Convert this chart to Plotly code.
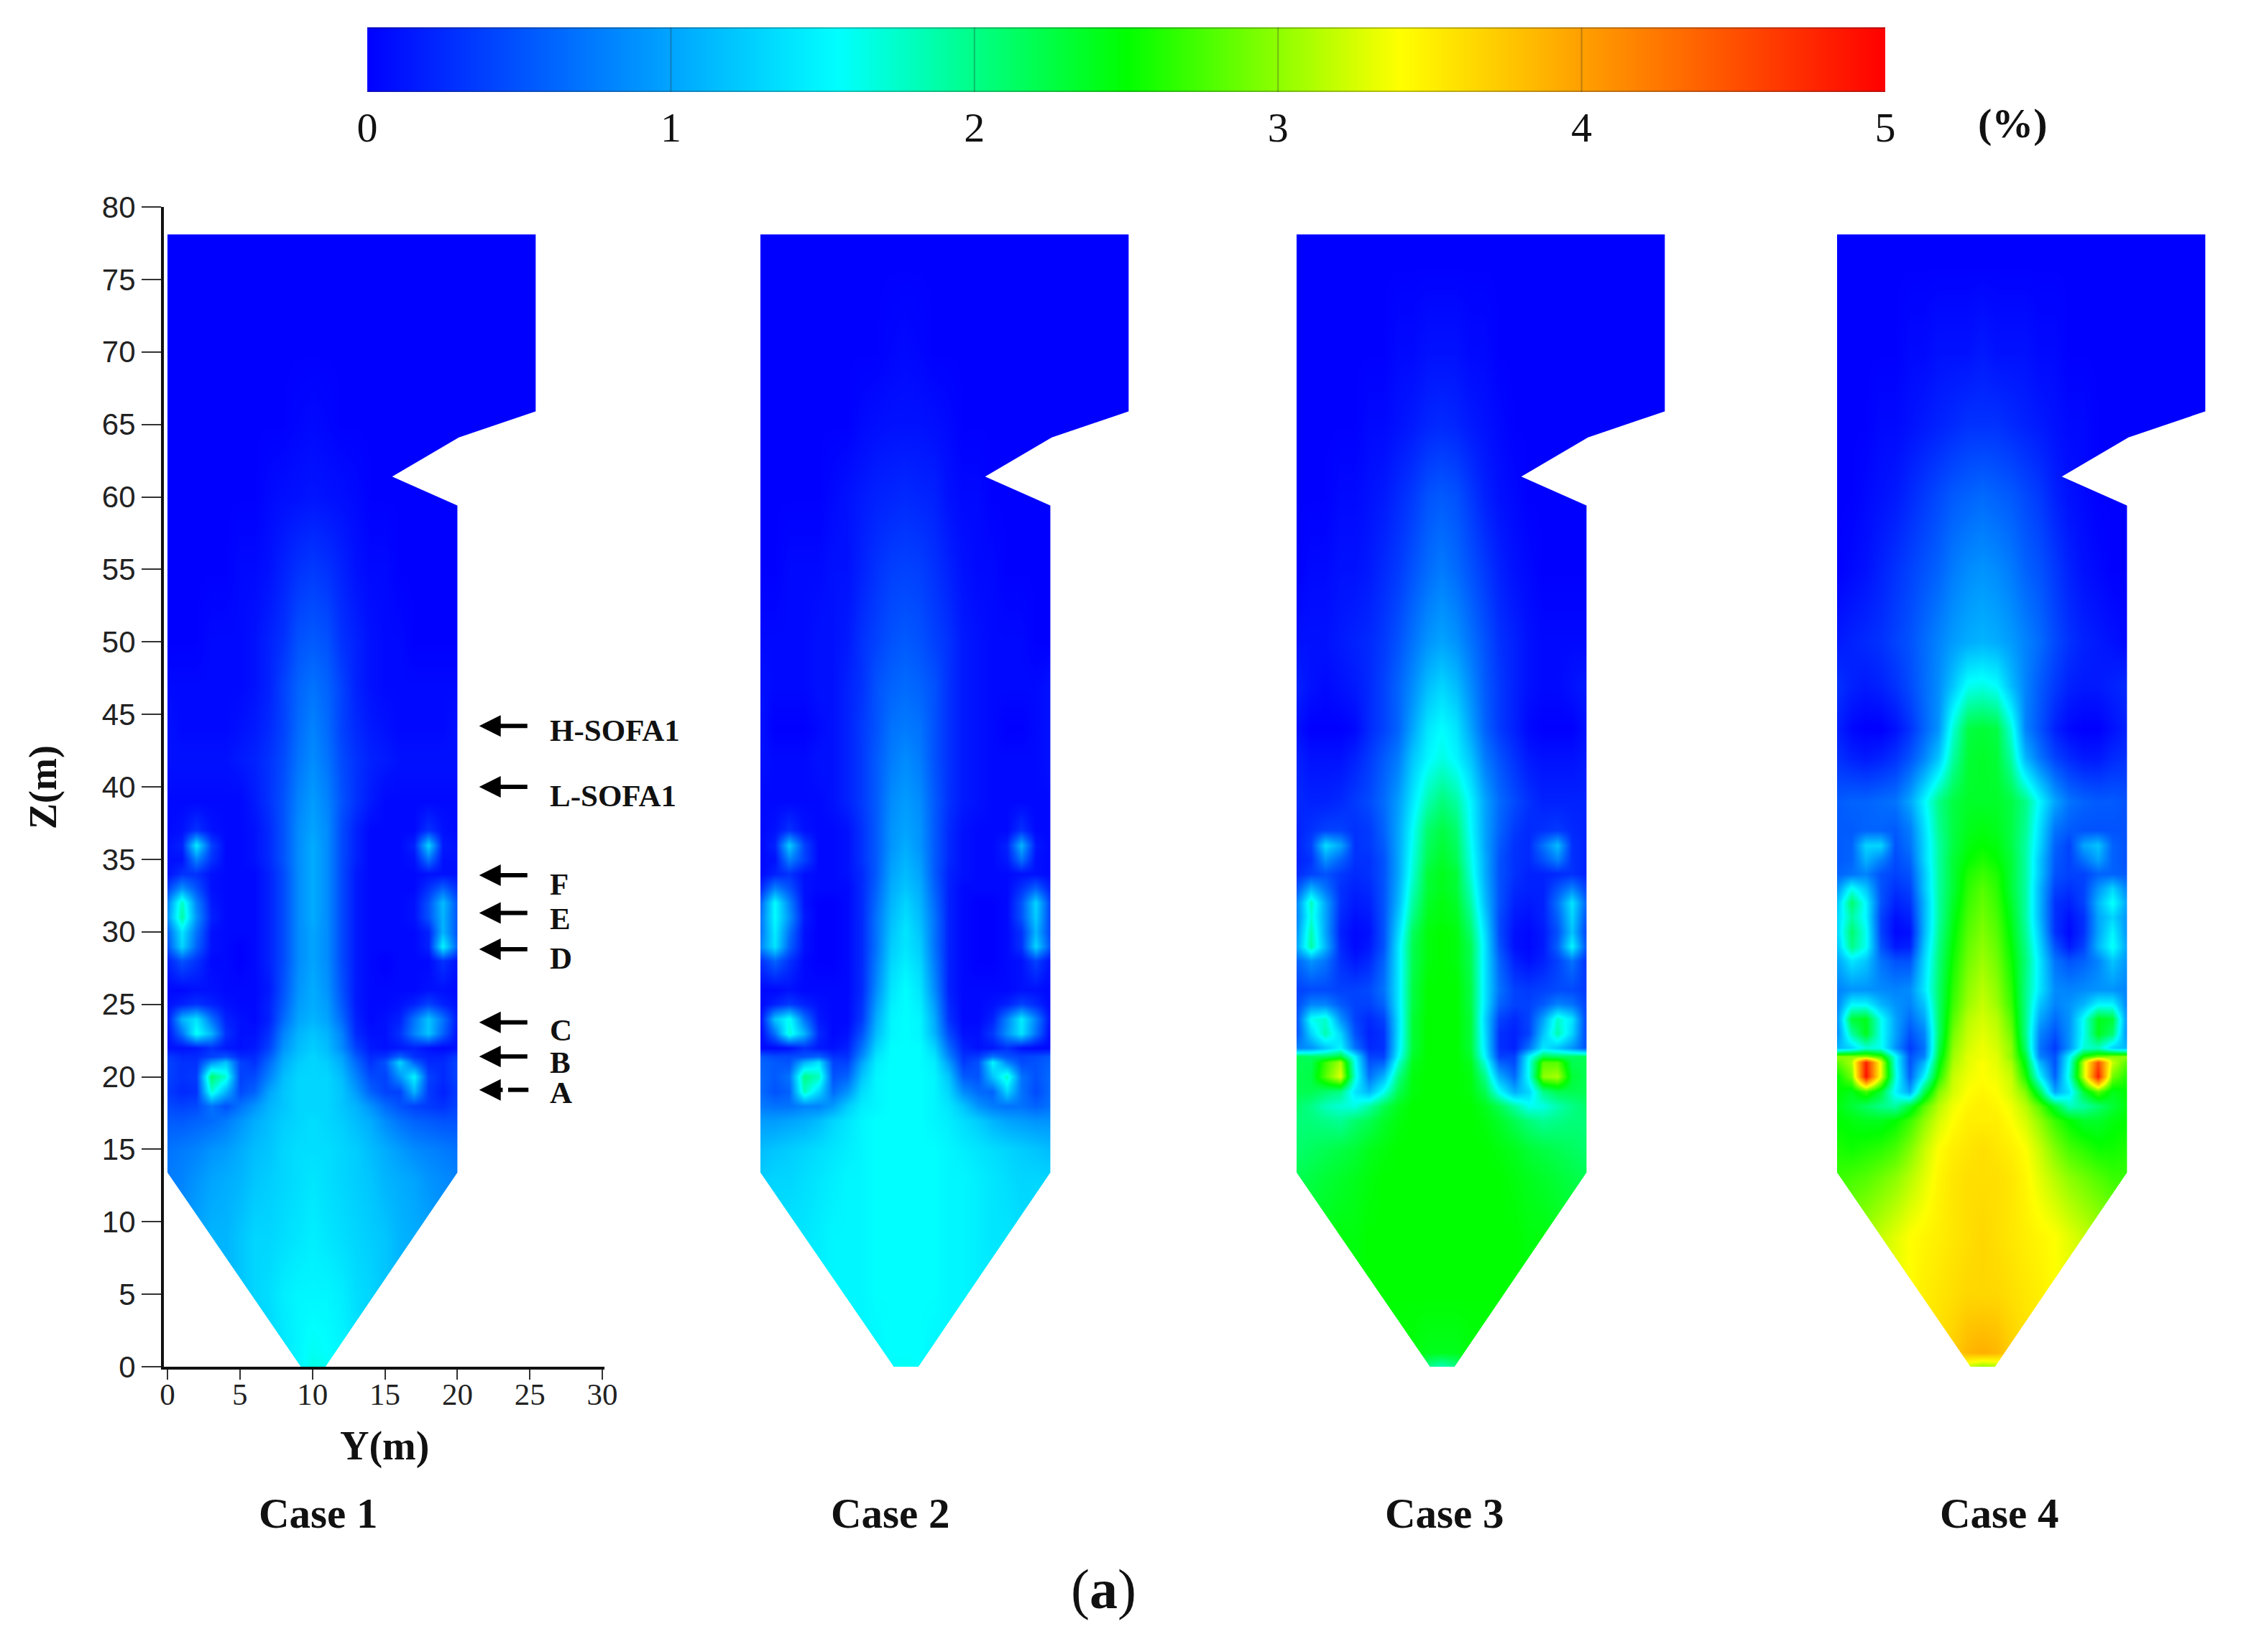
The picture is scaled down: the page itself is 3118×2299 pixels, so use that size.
import plotly.graph_objects as go

W, H = 3118, 2299

# furnace section, metres
Y_M = [0, 1, 2, 3, 4, 5, 6, 7, 8, 9, 10, 11, 12, 13, 14, 15, 16, 17, 18, 19, 20, 24]
Z_M = [0, 1, 5, 9, 13, 15, 17, 18, 19, 20, 21, 21.4, 22, 23, 24, 25, 26, 28, 29, 30, 31, 32,
       33, 34, 35, 36, 37, 39, 42, 44, 47, 50, 55, 60, 65, 70, 76]
FURNACE_Y = [0, 0, 25.4, 25.4, 20.1, 15.5, 20, 20, 10.9, 9.2, 0]
FURNACE_Z = [13.4, 78.1, 78.1, 65.9, 64.1, 61.4, 59.4, 13.4, 0, 0, 13.4]

# one row per Z_M value, bottom up (%)
CASE_1 = [
    [.9, .9, .9, 1, 1, 1.1, 1.2, 1.3, 1.4, 1.5, 1.65, 1.6, 1.5, 1.4, 1.2, 1.1, 1, 1, .9, .9, .9, .9],
    [.9, .9, .9, 1, 1, 1.1, 1.2, 1.3, 1.4, 1.5, 1.6, 1.55, 1.5, 1.4, 1.2, 1.1, 1, 1, .9, .9, .9, .9],
    [.9, .9, .9, 1, 1.1, 1.2, 1.3, 1.35, 1.45, 1.5, 1.5, 1.5, 1.45, 1.35, 1.3, 1.2, 1.1, 1, .9, .9, .9, .9],
    [.9, .9, 1, 1.1, 1.1, 1.2, 1.3, 1.3, 1.35, 1.4, 1.45, 1.4, 1.35, 1.3, 1.25, 1.2, 1.1, 1.05, 1, .9, .9, .9],
    [.75, .8, .9, 1, 1.05, 1.1, 1.2, 1.25, 1.3, 1.35, 1.4, 1.35, 1.3, 1.25, 1.2, 1.1, 1.05, 1, .9, .85, .8, .8],
    [.7, .75, .8, .9, .95, 1.05, 1.15, 1.2, 1.3, 1.35, 1.35, 1.35, 1.3, 1.25, 1.15, 1.05, .95, .85, .8, .75, .7, .7],
    [.55, .55, .6, .65, .75, .9, 1.05, 1.15, 1.25, 1.3, 1.35, 1.3, 1.25, 1.15, 1.05, .85, .7, .6, .55, .5, .5, .5],
    [.45, .4, .45, .7, .5, .7, .9, 1.1, 1.2, 1.3, 1.3, 1.3, 1.2, 1.1, .9, .65, .5, .4, .35, .3, .4, .4],
    [.35, .25, .3, 1.7, 1.1, .45, .6, 1, 1.2, 1.3, 1.3, 1.3, 1.2, .95, .6, .4, .4, 1.1, .35, .2, .35, .35],
    [.4, .3, .35, 2.1, 1.7, .4, .45, .8, 1.15, 1.3, 1.3, 1.3, 1.15, .8, .45, .4, .9, 1.5, .4, .25, .4, .4],
    [.4, .3, .3, .9, 1.2, .4, .3, .65, 1.05, 1.25, 1.3, 1.25, 1.05, .65, .3, .5, 1.3, .6, .25, .25, .4, .4],
    [.35, .25, .25, .4, .5, .25, .25, .55, 1, 1.2, 1.3, 1.2, 1, .55, .25, .3, .6, .3, .2, .2, .35, .35],
    [.1, .1, .15, .3, .15, .1, .15, .4, .9, 1.15, 1.25, 1.15, .85, .4, .15, .1, .15, .2, .1, .05, .1, .1],
    [.1, .7, 1.6, 1.1, .3, .1, .1, .3, .8, 1.1, 1.2, 1.1, .8, .25, .1, .1, .3, .8, 1.2, .6, .1, .1],
    [.15, 1.1, 1.4, .7, .2, .1, .05, .2, .65, 1, 1.1, 1, .65, .2, .05, .1, .2, .7, 1.2, .7, .15, .15],
    [.1, .2, .3, .2, .1, .05, .05, .2, .55, .95, 1.05, .95, .55, .15, .05, .05, .1, .2, .4, .2, .1, .1],
    [.05, .05, .1, .1, .05, .05, .05, .15, .5, .9, 1.05, .9, .5, .15, .05, .05, .05, .05, .1, .1, .05, .05],
    [.2, .5, .3, .05, .05, 0, .05, .2, .45, .85, 1, .85, .45, .15, .05, 0, .05, .05, .05, .3, .1, .1],
    [.5, 1.3, .6, .1, .05, 0, .05, .2, .45, .85, 1, .85, .45, .15, .05, .05, .05, .05, .2, 1.5, .6, .1],
    [.6, 1.4, .7, .1, .05, .05, .05, .2, .45, .85, 1, .85, .45, .15, .05, .05, .05, .05, .2, 1.1, .5, .1],
    [.9, 1.9, .9, .2, .05, .05, .05, .2, .45, .85, 1.05, .85, .45, .15, .05, .05, .05, .1, .5, 1.1, .5, .1],
    [.8, 1.8, .8, .15, .05, .05, .05, .2, .45, .85, 1.05, .85, .45, .15, .05, .05, .05, .1, .5, 1.15, .5, .1],
    [.4, .9, .5, .1, .05, .05, .05, .2, .45, .85, 1.05, .85, .45, .15, .05, .05, .05, .05, .3, .6, .3, .1],
    [.1, .3, .3, .1, .05, .05, .05, .2, .45, .85, 1.05, .85, .45, .15, .05, .05, .05, .05, .1, .1, .1, .1],
    [.1, .1, .8, .3, .05, .05, .1, .25, .5, .85, 1.05, .85, .45, .2, .05, .05, .05, .1, .7, .1, .1, .1],
    [.1, .2, 1.45, .4, .05, .05, .1, .25, .5, .85, 1.05, .85, .45, .2, .05, .05, .05, .2, 1.3, .15, .1, .1],
    [.05, .1, .3, .1, .05, .05, .1, .25, .5, .85, 1, .85, .45, .2, .05, .05, .05, .05, .3, .1, .05, .05],
    [.05, .05, .05, .05, .05, .05, .15, .3, .5, .8, .95, .8, .5, .3, .15, .05, .05, .05, .05, .05, .05, .05],
    [.1, .1, .1, .1, .1, .15, .2, .3, .45, .7, .85, .7, .45, .3, .2, .15, .1, .1, .1, .1, .1, .1],
    [.1, .05, .05, .05, .05, .1, .15, .25, .4, .65, .8, .65, .4, .25, .15, .1, .05, .05, .05, .05, .1, .1],
    [.05, .05, .05, .05, .05, .05, .1, .2, .4, .6, .7, .6, .4, .2, .1, .05, .05, .05, .05, .05, .05, .05],
    [0, 0, 0, .05, .05, .05, .1, .2, .3, .5, .55, .5, .3, .2, .1, .05, .05, 0, 0, 0, 0, 0],
    [0, 0, 0, 0, 0, .05, .05, .1, .2, .3, .35, .3, .2, .1, .05, .05, 0, 0, 0, 0, 0, 0],
    [0, 0, 0, 0, 0, 0, 0, .05, .08, .1, .12, .1, .08, .05, 0, 0, 0, 0, 0, 0, 0, 0],
    [0, 0, 0, 0, 0, 0, 0, 0, 0, .03, .05, .03, 0, 0, 0, 0, 0, 0, 0, 0, 0, 0],
    [0, 0, 0, 0, 0, 0, 0, 0, 0, 0, 0, 0, 0, 0, 0, 0, 0, 0, 0, 0, 0, 0],
    [0, 0, 0, 0, 0, 0, 0, 0, 0, 0, 0, 0, 0, 0, 0, 0, 0, 0, 0, 0, 0, 0],
]
CASE_2 = [
    [1.4, 1.4, 1.4, 1.45, 1.45, 1.5, 1.5, 1.5, 1.5, 1.55, 1.6, 1.55, 1.5, 1.5, 1.5, 1.45, 1.45, 1.4, 1.4, 1.4, 1.4, 1.4],
    [1.4, 1.4, 1.4, 1.45, 1.45, 1.5, 1.5, 1.5, 1.5, 1.55, 1.55, 1.55, 1.5, 1.5, 1.5, 1.45, 1.45, 1.4, 1.4, 1.4, 1.4, 1.4],
    [1.35, 1.35, 1.4, 1.45, 1.45, 1.5, 1.5, 1.5, 1.55, 1.55, 1.55, 1.55, 1.55, 1.5, 1.5, 1.45, 1.45, 1.4, 1.4, 1.35, 1.35, 1.35],
    [1.3, 1.35, 1.4, 1.4, 1.45, 1.5, 1.5, 1.5, 1.55, 1.55, 1.55, 1.55, 1.55, 1.5, 1.5, 1.45, 1.4, 1.4, 1.35, 1.35, 1.3, 1.3],
    [1.25, 1.3, 1.3, 1.35, 1.4, 1.45, 1.5, 1.5, 1.55, 1.55, 1.55, 1.55, 1.55, 1.5, 1.5, 1.45, 1.4, 1.35, 1.3, 1.3, 1.3, 1.3],
    [1.15, 1.2, 1.25, 1.3, 1.35, 1.4, 1.45, 1.5, 1.55, 1.55, 1.55, 1.55, 1.55, 1.5, 1.45, 1.4, 1.35, 1.3, 1.25, 1.2, 1.15, 1.15],
    [.95, .95, 1, 1.05, 1.15, 1.3, 1.4, 1.5, 1.55, 1.55, 1.55, 1.55, 1.5, 1.45, 1.35, 1.25, 1.1, 1, .95, .9, .9, .9],
    [.75, .7, .7, .8, .8, .95, 1.25, 1.45, 1.5, 1.55, 1.55, 1.55, 1.5, 1.4, 1.2, .9, .75, .7, .7, .6, .7, .7],
    [.65, .5, .6, 1.8, 1.3, .65, .9, 1.35, 1.5, 1.55, 1.55, 1.55, 1.5, 1.3, .85, .65, .6, 1.3, .7, .45, .65, .65],
    [.65, .55, .7, 2, 1.8, .5, .6, 1.2, 1.5, 1.55, 1.55, 1.55, 1.5, 1.2, .55, .5, 1.2, 1.75, .7, .5, .65, .65],
    [.6, .55, .5, 1.1, 1.4, .4, .4, 1, 1.45, 1.55, 1.55, 1.55, 1.45, .95, .35, .5, 1.5, .8, .45, .5, .6, .6],
    [.55, .45, .45, .5, .6, .3, .3, .85, 1.4, 1.55, 1.55, 1.55, 1.4, .8, .3, .35, .7, .5, .4, .45, .55, .55],
    [.05, .05, .1, .3, .15, .1, .2, .7, 1.3, 1.55, 1.55, 1.55, 1.3, .65, .2, .1, .15, .3, .1, .05, .05, .05],
    [.05, .7, 1.7, 1.1, .25, .05, .1, .5, 1.15, 1.5, 1.55, 1.5, 1.1, .45, .1, .1, .35, .9, 1.4, .7, .05, .05],
    [.1, 1.2, 1.6, .7, .15, .05, .05, .35, 1.05, 1.5, 1.55, 1.5, 1.05, .3, .05, .05, .2, .8, 1.45, .8, .1, .1],
    [.05, .2, .35, .2, .1, .05, .05, .3, .95, 1.45, 1.55, 1.45, .95, .25, .05, .05, .1, .2, .4, .25, .05, .05],
    [.05, .05, .1, .05, .05, .05, .05, .25, .85, 1.4, 1.55, 1.4, .85, .2, .05, .05, .05, .05, .1, .1, .05, .05],
    [.3, .6, .3, .05, 0, 0, .05, .25, .75, 1.3, 1.45, 1.3, .75, .2, .05, 0, 0, .05, .1, .4, .1, .05],
    [.8, 1.4, .6, .1, 0, 0, .05, .25, .7, 1.25, 1.4, 1.25, .7, .2, .05, 0, 0, .05, .3, 1.3, .5, .05],
    [.7, 1.45, .7, .1, 0, 0, .05, .25, .7, 1.2, 1.4, 1.2, .7, .2, .05, 0, 0, .05, .3, 1.1, .4, .05],
    [.7, 1.55, .9, .15, 0, 0, .05, .25, .7, 1.15, 1.35, 1.15, .7, .2, .05, 0, 0, .05, .5, 1.25, .4, .05],
    [.6, 1.55, .8, .1, 0, 0, .05, .25, .65, 1.1, 1.3, 1.1, .65, .2, .05, 0, 0, .05, .5, 1.3, .4, .05],
    [.25, .8, .5, .1, .05, .05, .05, .25, .6, 1.05, 1.2, 1.05, .6, .2, .05, .05, .05, .05, .3, .6, .2, .05],
    [.05, .2, .3, .1, .05, .05, .1, .25, .55, 1, 1.15, 1, .55, .2, .1, .05, .05, .05, .1, .1, .05, .05],
    [.05, .1, .8, .4, .05, .05, .1, .3, .55, .95, 1.1, .95, .55, .25, .1, .05, .05, .15, .7, .1, .05, .05],
    [.05, .2, 1.25, .4, .05, .05, .1, .3, .55, .9, 1.05, .9, .55, .25, .1, .05, .05, .2, 1.1, .15, .05, .05],
    [.05, .1, .3, .1, .05, .05, .1, .3, .55, .9, 1, .9, .55, .25, .1, .05, .05, .05, .3, .05, .05, .05],
    [.05, .05, .05, .05, .05, .1, .2, .35, .55, .85, .95, .85, .55, .3, .15, .1, .05, .05, .05, .05, .05, .05],
    [.1, .05, .05, .05, .1, .1, .2, .35, .55, .75, .85, .75, .5, .3, .15, .1, .05, .05, .05, .05, .1, .1],
    [.1, 0, 0, 0, .05, .1, .2, .35, .5, .7, .75, .7, .5, .3, .15, .1, .05, 0, 0, .05, .1, .1],
    [.1, .05, .05, .05, .1, .1, .2, .3, .5, .6, .65, .6, .5, .3, .15, .1, .05, .05, .05, .05, .1, .1],
    [.05, .05, .05, .05, .1, .1, .15, .3, .4, .5, .55, .5, .4, .3, .15, .1, .05, .05, .05, 0, 0, 0],
    [0, 0, .05, .05, .05, .1, .1, .2, .3, .38, .4, .38, .3, .2, .1, .05, .05, 0, 0, 0, 0, 0],
    [0, 0, 0, 0, 0, .05, .1, .15, .2, .22, .25, .22, .2, .1, .05, .05, 0, 0, 0, 0, 0, 0],
    [0, 0, 0, 0, 0, 0, 0, .05, .08, .1, .1, .1, .08, .05, 0, 0, 0, 0, 0, 0, 0, 0],
    [0, 0, 0, 0, 0, 0, 0, 0, 0, .03, .05, .03, 0, 0, 0, 0, 0, 0, 0, 0, 0, 0],
    [0, 0, 0, 0, 0, 0, 0, 0, 0, 0, 0, 0, 0, 0, 0, 0, 0, 0, 0, 0, 0, 0],
]
CASE_3 = [
    [2.3, 2.3, 2.3, 2.35, 2.4, 2.4, 2.4, 2.45, 2.45, 2, 1.8, 2, 2.45, 2.45, 2.4, 2.4, 2.4, 2.35, 2.3, 2.3, 2.3, 2.3],
    [2.3, 2.3, 2.35, 2.4, 2.4, 2.45, 2.45, 2.45, 2.45, 2.4, 2.4, 2.4, 2.45, 2.45, 2.45, 2.45, 2.4, 2.4, 2.35, 2.3, 2.3, 2.3],
    [2.35, 2.4, 2.4, 2.45, 2.45, 2.5, 2.5, 2.5, 2.5, 2.5, 2.5, 2.5, 2.5, 2.5, 2.5, 2.5, 2.45, 2.45, 2.4, 2.4, 2.35, 2.35],
    [2.3, 2.35, 2.4, 2.45, 2.45, 2.5, 2.5, 2.5, 2.5, 2.5, 2.5, 2.5, 2.5, 2.5, 2.5, 2.5, 2.45, 2.45, 2.4, 2.35, 2.3, 2.3],
    [2.2, 2.25, 2.3, 2.35, 2.4, 2.45, 2.5, 2.5, 2.5, 2.5, 2.5, 2.5, 2.5, 2.5, 2.5, 2.45, 2.4, 2.35, 2.3, 2.25, 2.2, 2.2],
    [2.1, 2.15, 2.2, 2.25, 2.3, 2.4, 2.45, 2.5, 2.5, 2.5, 2.5, 2.5, 2.5, 2.5, 2.45, 2.4, 2.3, 2.25, 2.2, 2.15, 2.1, 2.1],
    [2.05, 2.05, 2, 1.95, 2.1, 2.2, 2.35, 2.45, 2.5, 2.5, 2.5, 2.5, 2.5, 2.45, 2.35, 2.2, 2.05, 1.95, 2, 2.05, 2.05, 2.05],
    [2.1, 2, 1.8, 1.7, 1.65, 1.9, 2.2, 2.4, 2.5, 2.5, 2.5, 2.5, 2.5, 2.4, 2.2, 1.9, 1.6, 1.65, 1.85, 2, 2.1, 2.1],
    [2.2, 2.2, 2.1, 2, 1.4, 1.1, 1.6, 2.2, 2.45, 2.5, 2.5, 2.5, 2.45, 2.2, 1.55, 1.05, 1.3, 2, 2.2, 2.2, 2.2, 2.2],
    [2.2, 2.25, 2.8, 3.3, 1.7, .7, 1.1, 2, 2.45, 2.5, 2.5, 2.5, 2.45, 2, 1.05, .65, 1.6, 3, 3.1, 2.3, 2.2, 2.2],
    [2.2, 2.2, 2.7, 3.1, 1.6, .5, .6, 1.7, 2.4, 2.5, 2.5, 2.5, 2.4, 1.7, .6, .45, 1.6, 2.8, 2.8, 2.2, 2.2, 2.2],
    [2.2, 2.15, 2.15, 2.3, 1.5, .4, .4, 1.5, 2.35, 2.5, 2.5, 2.5, 2.35, 1.5, .4, .4, 1.5, 2.2, 2.15, 2.15, 2.2, 2.2],
    [.8, .9, 1.2, 1.5, .7, .25, .3, 1.4, 2.3, 2.5, 2.5, 2.5, 2.3, 1.4, .3, .2, .7, 1.4, 1.2, .9, .5, .5],
    [.5, 1.3, 1.85, 1.3, .5, .2, .3, 1.35, 2.3, 2.5, 2.5, 2.5, 2.3, 1.35, .3, .2, .4, 1.2, 1.85, 1.3, .4, .4],
    [.5, 1.6, 1.75, .9, .4, .25, .4, 1.35, 2.3, 2.5, 2.5, 2.5, 2.3, 1.3, .4, .25, .4, 1, 1.75, 1.4, .4, .4],
    [.45, .8, .8, .55, .4, .4, .6, 1.4, 2.25, 2.5, 2.5, 2.5, 2.25, 1.4, .6, .4, .4, .55, .8, .7, .4, .4],
    [.4, .45, .45, .4, .4, .45, .7, 1.4, 2.25, 2.5, 2.5, 2.5, 2.25, 1.4, .7, .4, .35, .4, .45, .45, .35, .35],
    [.6, .9, .7, .3, .15, .25, .6, 1.4, 2.2, 2.45, 2.5, 2.45, 2.2, 1.4, .6, .2, .1, .2, .4, .7, .3, .3],
    [1, 1.9, 1.1, .25, .05, .15, .5, 1.4, 2.2, 2.45, 2.5, 2.45, 2.2, 1.4, .5, .1, .05, .15, .6, 1.5, .5, .3],
    [.9, 1.85, 1, .2, .05, .1, .5, 1.3, 2.15, 2.45, 2.5, 2.45, 2.1, 1.35, .45, .1, .05, .15, .5, 1.2, .4, .3],
    [.8, 1.7, 1, .25, .1, .15, .5, 1.2, 2, 2.4, 2.45, 2.4, 2, 1.25, .45, .15, .1, .2, .6, 1.3, .5, .3],
    [.8, 1.8, 1, .3, .15, .2, .5, 1.1, 1.9, 2.35, 2.45, 2.35, 1.9, 1.15, .5, .2, .15, .2, .7, 1.4, .6, .3],
    [.5, 1.1, .7, .3, .2, .25, .5, 1.05, 1.8, 2.3, 2.4, 2.3, 1.8, 1.1, .5, .25, .2, .2, .5, .8, .4, .25],
    [.25, .4, .5, .35, .25, .3, .5, 1, 1.7, 2.3, 2.4, 2.3, 1.7, 1.05, .5, .3, .2, .2, .25, .3, .2, .2],
    [.2, .3, .9, .6, .3, .3, .5, 1, 1.65, 2.2, 2.35, 2.2, 1.65, 1.05, .5, .3, .25, .5, .8, .3, .2, .2],
    [.2, .4, 1.35, 1, .3, .35, .55, 1, 1.6, 2.15, 2.3, 2.15, 1.6, 1, .55, .3, .25, .7, 1.15, .3, .2, .2],
    [.2, .3, .4, .4, .3, .35, .6, 1, 1.55, 2.1, 2.25, 2.1, 1.55, 1, .6, .35, .25, .3, .35, .25, .2, .2],
    [.25, .2, .2, .25, .35, .45, .65, .95, 1.4, 1.85, 2.05, 1.9, 1.5, 1, .65, .45, .3, .2, .2, .2, .2, .2],
    [.2, .1, .1, .1, .2, .35, .55, .75, 1.2, 1.5, 1.65, 1.5, 1.2, .75, .5, .3, .15, .1, .1, .1, .15, .2],
    [.1, 0, 0, 0, .05, .25, .4, .6, 1, 1.4, 1.55, 1.4, 1, .6, .35, .2, .05, 0, 0, 0, .1, .1],
    [.2, .1, .05, .1, .15, .25, .4, .6, .85, 1.15, 1.3, 1.15, .85, .55, .35, .2, .1, .05, .05, .1, .15, .2],
    [.1, .1, .1, .15, .2, .25, .35, .5, .7, .9, 1, .9, .7, .5, .3, .2, .1, .05, .05, .05, .05, .05],
    [0, .05, .05, .1, .1, .15, .25, .35, .5, .65, .75, .65, .5, .35, .2, .1, .05, 0, 0, 0, 0, 0],
    [0, 0, 0, .05, .05, .1, .15, .25, .35, .5, .55, .5, .35, .2, .1, .05, 0, 0, 0, 0, 0, 0],
    [0, 0, 0, 0, 0, .05, .05, .1, .15, .22, .25, .22, .15, .1, .05, 0, 0, 0, 0, 0, 0, 0],
    [0, 0, 0, 0, 0, 0, 0, .05, .05, .1, .1, .1, .05, .05, 0, 0, 0, 0, 0, 0, 0, 0],
    [0, 0, 0, 0, 0, 0, 0, 0, 0, 0, 0, 0, 0, 0, 0, 0, 0, 0, 0, 0, 0, 0],
]
CASE_4 = [
    [3.1, 3.1, 3.1, 3.1, 3.15, 3.2, 3.2, 3.2, 3.3, 3.2, 3, 3.1, 3.3, 3.2, 3.2, 3.2, 3.15, 3.1, 3.1, 3.1, 3.1, 3.1],
    [3.1, 3.1, 3.15, 3.2, 3.3, 3.4, 3.5, 3.6, 3.7, 3.85, 3.9, 3.85, 3.7, 3.6, 3.5, 3.4, 3.3, 3.2, 3.15, 3.1, 3.1, 3.1],
    [3.1, 3.15, 3.2, 3.3, 3.35, 3.4, 3.5, 3.55, 3.6, 3.65, 3.65, 3.65, 3.6, 3.55, 3.5, 3.4, 3.35, 3.3, 3.2, 3.15, 3.1, 3.1],
    [3, 3.05, 3.1, 3.2, 3.3, 3.4, 3.45, 3.5, 3.55, 3.6, 3.65, 3.6, 3.55, 3.5, 3.45, 3.4, 3.3, 3.2, 3.1, 3.05, 3, 3],
    [2.7, 2.75, 2.8, 2.9, 3, 3.15, 3.3, 3.45, 3.55, 3.6, 3.6, 3.6, 3.55, 3.45, 3.3, 3.15, 3, 2.9, 2.8, 2.7, 2.7, 2.7],
    [2.6, 2.55, 2.6, 2.65, 2.75, 2.95, 3.2, 3.4, 3.5, 3.55, 3.6, 3.55, 3.5, 3.4, 3.2, 2.95, 2.75, 2.65, 2.55, 2.55, 2.6, 2.6],
    [2.5, 2.45, 2.4, 2.4, 2.5, 2.7, 3, 3.25, 3.4, 3.5, 3.5, 3.5, 3.4, 3.25, 3, 2.7, 2.5, 2.35, 2.35, 2.45, 2.5, 2.5],
    [2.45, 2.3, 2.15, 2, 1.9, 2.3, 2.8, 3.15, 3.35, 3.45, 3.5, 3.45, 3.35, 3.15, 2.8, 2.3, 1.8, 1.9, 2.1, 2.3, 2.45, 2.45],
    [2.5, 2.4, 2.7, 2.3, 1.5, 1, 2.2, 2.95, 3.25, 3.4, 3.45, 3.4, 3.25, 2.95, 2.2, 1, 1.4, 2.3, 2.8, 2.4, 2.5, 2.5],
    [2.5, 2.9, 4.9, 3.3, 1.7, .6, 1.5, 2.6, 3.2, 3.35, 3.4, 3.35, 3.2, 2.6, 1.5, .6, 1.7, 3.2, 4.8, 2.9, 2.6, 2.6],
    [2.8, 3.1, 4.8, 3.3, 1.6, .5, 1.1, 2.4, 3.1, 3.3, 3.4, 3.3, 3.1, 2.4, 1.1, .5, 1.6, 3.2, 4.5, 3.2, 2.8, 2.8],
    [3, 3, 3, 2.7, 1.6, .5, .8, 2.3, 3.05, 3.3, 3.35, 3.3, 3, 2.3, .8, .5, 1.5, 2.6, 2.9, 3, 3, 3],
    [1.1, 1.3, 1.7, 1.6, .9, .35, .7, 2.2, 3, 3.25, 3.35, 3.25, 3, 2.1, .7, .35, .9, 1.7, 1.8, 1.3, 1.1, 1.1],
    [.85, 1.9, 2.4, 1.6, 1, .5, .8, 2.1, 2.9, 3.2, 3.3, 3.2, 2.9, 2, .8, .5, .9, 1.6, 2.4, 2.1, .85, .85],
    [.9, 2.3, 2.4, 1.6, 1, .65, 1, 2.1, 2.8, 3.15, 3.25, 3.15, 2.8, 2, 1, .65, .9, 1.6, 2.4, 2.3, .9, .9],
    [.8, 1.5, 1.5, 1.1, .9, .8, 1.2, 2.1, 2.7, 3.05, 3.2, 3.05, 2.7, 2, 1.2, .8, .9, 1.1, 1.5, 1.5, .8, .8],
    [.8, .9, .9, .85, .8, .85, 1.4, 2.1, 2.65, 3, 3.15, 3, 2.65, 2, 1.4, .85, .8, .85, .9, .9, .8, .8],
    [1, 1.4, 1.2, .7, .5, .5, 1.3, 2.05, 2.55, 2.9, 3.05, 2.9, 2.55, 2.05, 1.4, .7, .5, .6, .8, 1.2, .9, .9],
    [1.2, 2, 1.6, .5, .15, .2, 1.2, 2, 2.5, 2.85, 3, 2.85, 2.5, 2, 1.3, .5, .15, .4, 1.1, 1.6, 1, .9],
    [1.3, 2.1, 1.6, .4, .05, .1, 1.1, 1.95, 2.45, 2.8, 2.95, 2.8, 2.45, 1.95, 1.2, .3, .05, .3, 1, 1.5, .9, .9],
    [1.3, 1.9, 1.5, .4, .1, .2, 1.1, 1.9, 2.4, 2.75, 2.9, 2.75, 2.4, 1.9, 1.1, .3, .1, .3, 1, 1.3, .9, .9],
    [1.2, 2.1, 1.5, .5, .2, .3, 1.1, 1.9, 2.35, 2.7, 2.85, 2.7, 2.35, 1.9, 1.1, .3, .2, .4, 1.1, 1.6, 1, .9],
    [.9, 1.6, 1.2, .5, .3, .4, 1.2, 1.9, 2.3, 2.65, 2.8, 2.65, 2.3, 1.9, 1.1, .4, .3, .4, .9, 1.3, .8, .7],
    [.6, .7, .8, .5, .4, .5, 1.2, 1.9, 2.3, 2.6, 2.7, 2.6, 2.3, 1.9, 1.2, .5, .4, .4, .6, .6, .55, .5],
    [.55, .6, 1.1, .8, .45, .6, 1.3, 1.9, 2.3, 2.5, 2.6, 2.5, 2.3, 1.9, 1.2, .55, .4, .7, 1, .6, .5, .5],
    [.55, .6, 1.3, 1.3, .5, .7, 1.3, 1.9, 2.25, 2.45, 2.5, 2.45, 2.25, 1.9, 1.3, .6, .4, 1, 1.2, .6, .5, .5],
    [.55, .55, .6, .6, .55, .75, 1.35, 1.95, 2.25, 2.4, 2.45, 2.4, 2.25, 1.95, 1.35, .7, .55, .5, .5, .5, .5, .5],
    [.55, .6, .6, .65, .7, 1, 1.5, 2, 2.25, 2.35, 2.35, 2.35, 2.25, 2, 1.5, 1, .7, .6, .55, .55, .5, .5],
    [.3, .2, .15, .2, .3, .5, .8, 1.2, 1.9, 2.3, 2.35, 2.3, 1.9, 1.1, .7, .4, .25, .15, .15, .25, .3, .3],
    [.2, .05, 0, 0, .1, .3, .6, .9, 1.7, 2.25, 2.3, 2.25, 1.7, .8, .5, .2, .05, 0, 0, .1, .2, .2],
    [.3, .2, .15, .2, .3, .45, .65, .85, 1.2, 1.6, 1.65, 1.55, 1.15, .8, .55, .35, .2, .15, .15, .2, .25, .3],
    [.15, .2, .25, .3, .4, .5, .65, .8, .95, 1.05, 1.1, 1.05, .95, .8, .65, .45, .3, .2, .15, .1, .05, .05],
    [0, .05, .1, .2, .3, .4, .5, .6, .75, .85, .9, .85, .75, .6, .5, .35, .2, .1, .05, 0, 0, 0],
    [0, 0, .05, .1, .15, .25, .35, .45, .55, .6, .65, .6, .55, .45, .35, .2, .1, .05, 0, 0, 0, 0],
    [0, 0, 0, .05, .05, .1, .15, .2, .25, .3, .3, .3, .25, .2, .15, .1, .05, .05, 0, 0, 0, 0],
    [0, 0, 0, 0, 0, .05, .05, .1, .1, .1, .15, .1, .1, .1, .05, .05, 0, 0, 0, 0, 0, 0],
    [0, 0, 0, 0, 0, 0, 0, 0, 0, 0, 0, 0, 0, 0, 0, 0, 0, 0, 0, 0, 0, 0],
]
CASES = [CASE_1, CASE_2, CASE_3, CASE_4]
CASE_NAMES = ["Case 1", "Case 2", "Case 3", "Case 4"]

# colour bar and axis labels
BAR_VALUES = [0, 1, 2, 3, 4, 5]
Y_TICKS = [0, 5, 10, 15, 20, 25, 30]
Z_TICKS = [0, 5, 10, 15, 20, 25, 30, 35, 40, 45, 50, 55, 60, 65, 70, 75, 80]

# air staging levels
LEVEL_NAMES = ["H-SOFA1", "L-SOFA1", "F", "E", "D", "C", "B", "A"]
LEVEL_Z = [44.2, 40, 33.9, 31.3, 28.8, 23.75, 21.4, 19.1]
LEVEL_LABEL_Z = [43.9, 39.4, 33.3, 30.9, 28.2, 23.2, 21, 18.9]

COLORSCALE = [[0, "rgb(0,0,255)"], [0.31, "rgb(0,255,255)"], [0.5, "rgb(0,255,0)"],
              [0.68, "rgb(255,255,0)"], [1, "rgb(255,0,0)"]]
SERIF = "Liberation Serif"
SANS = "Liberation Sans"
SCALE = 20.17  # px per metre
BODY = 8  # default page margin of the html


def px_x(x):
    return (x - BODY) / W


def px_y(y):
    return 1 - (y - BODY) / H


fig = go.Figure()
layout = {}
lefts = [233, 1058, 1804, 2556]

# mask = big rectangle with the furnace outline cut out of it
mask_y = [-2, 33, 33, -2, -2] + FURNACE_Y + [-2]
mask_z = [-2, -2, 85, 85, -2] + FURNACE_Z + [-2]

for i, case in enumerate(CASES):
    n = i + 1
    xname = "x" if n == 1 else f"x{n}"
    yname = "y" if n == 1 else f"y{n}"
    fig.add_trace(go.Heatmap(x=Y_M, y=Z_M, z=case, zmin=0, zmax=5, colorscale=COLORSCALE,
                             zsmooth="best", showscale=False, xaxis=xname, yaxis=yname))
    fig.add_trace(go.Scatter(x=mask_y, y=mask_z, mode="lines", fill="toself", fillcolor="white",
                             line=dict(width=0, color="white"), hoverinfo="skip",
                             showlegend=False, xaxis=xname, yaxis=yname))
    # only case 1 shows axes; the others get some slack so the heatmap edge stays hidden
    xmin, xmax, zmin = (-0.25, 30.15, 0) if n == 1 else (-1, 26.5, -1)
    xdom = [px_x(lefts[i] + xmin * SCALE), px_x(lefts[i] + xmax * SCALE)]
    ydom = [px_y(1902 - zmin * SCALE), px_y(288)]
    xkey = "xaxis" if n == 1 else f"xaxis{n}"
    ykey = "yaxis" if n == 1 else f"yaxis{n}"
    layout[xkey] = dict(domain=xdom, range=[xmin, xmax], anchor=yname, visible=False)
    layout[ykey] = dict(domain=ydom, range=[zmin, 80], anchor=xname, visible=False)

layout["xaxis"] = dict(layout["xaxis"], visible=True, showline=True, linewidth=4, linecolor="#111",
                       tickvals=Y_TICKS, ticks="outside", ticklen=14, tickwidth=2, tickcolor="#333",
                       ticklabelstandoff=-17,
                       tickfont=dict(family=SERIF, size=43, color="#222"), showgrid=False, zeroline=False)
layout["yaxis"] = dict(layout["yaxis"], visible=True, showline=True, linewidth=4, linecolor="#111",
                       tickvals=Z_TICKS, ticks="outside", ticklen=27, tickwidth=2, tickcolor="#333",
                       tickfont=dict(family=SANS, size=42, color="#222"), showgrid=False, zeroline=False)

# colour bar as its own little subplot so the tick lines sit on top of it
fig.add_trace(go.Heatmap(x=BAR_VALUES, y=[0, 1], z=[BAR_VALUES, BAR_VALUES], zmin=0, zmax=5,
                         colorscale=COLORSCALE, zsmooth="best", showscale=False,
                         xaxis="x5", yaxis="y5"))
layout["xaxis5"] = dict(domain=[px_x(511), px_x(2623)], range=[0, 5], anchor="y5", tickvals=BAR_VALUES,
                        ticks="", ticklabelstandoff=10, showgrid=False, zeroline=False,
                        tickfont=dict(family=SERIF, size=58, color="#111"))
layout["yaxis5"] = dict(domain=[px_y(128), px_y(38)], range=[0, 1], anchor="x5", visible=False)

shapes = []
for v in BAR_VALUES[1:-1]:
    shapes.append(dict(type="line", xref="x5", yref="y5", x0=v, x1=v, y0=0, y1=1,
                       line=dict(color="rgba(40,40,40,0.3)", width=2)))
for v in [0, 1]:
    shapes.append(dict(type="line", xref="x5", yref="y5", x0=0, x1=5, y0=v, y1=v,
                       line=dict(color="rgba(40,40,40,0.3)", width=4)))

annotations = []


def text(s, x, y, size, angle=0, anchor="center"):
    annotations.append(dict(text=s, x=px_x(x), y=px_y(y), xref="paper", yref="paper", showarrow=False,
                            xanchor=anchor, yanchor="middle", textangle=angle,
                            font=dict(family=SERIF, size=size, color="#111")))


text("<b>(%)</b>", 2800, 171, 58)
text("<b>Z(m)</b>", 60, 1095, 54, angle=-90)
text("<b>Y(m)</b>", 535, 2012, 56)
for name, cx in zip(CASE_NAMES, [443, 1239, 2010, 2782]):
    text(f"<b>{name}</b>", cx, 2106, 59)
text("(<b>a</b>)", 1535, 2211, 78)

for name, z, lz in zip(LEVEL_NAMES, LEVEL_Z, LEVEL_LABEL_Z):
    annotations.append(dict(x=21.5, y=z, ax=24.9 if name != "A" else 23.2, ay=z, xref="x", yref="y",
                            axref="x", ayref="y", text="", showarrow=True, arrowhead=2, arrowsize=1,
                            arrowwidth=6, arrowcolor="#000"))
    annotations.append(dict(x=26.3, y=lz, xref="x", yref="y", text=f"<b>{name}</b>", showarrow=False,
                            xanchor="left", yanchor="middle",
                            font=dict(family=SERIF, size=43, color="#111")))

# tail of the dashed A arrow
fig.add_trace(go.Scatter(x=[23.5, 24.9], y=[LEVEL_Z[-1], LEVEL_Z[-1]], mode="lines",
                         line=dict(color="#000", width=6), hoverinfo="skip", showlegend=False))

fig.update_layout(template="none", width=W, height=H, margin=dict(l=0, r=0, t=0, b=0),
                  plot_bgcolor="white", paper_bgcolor="white", showlegend=False,
                  shapes=shapes, annotations=annotations, **layout)
fig.write_html("out.html")
